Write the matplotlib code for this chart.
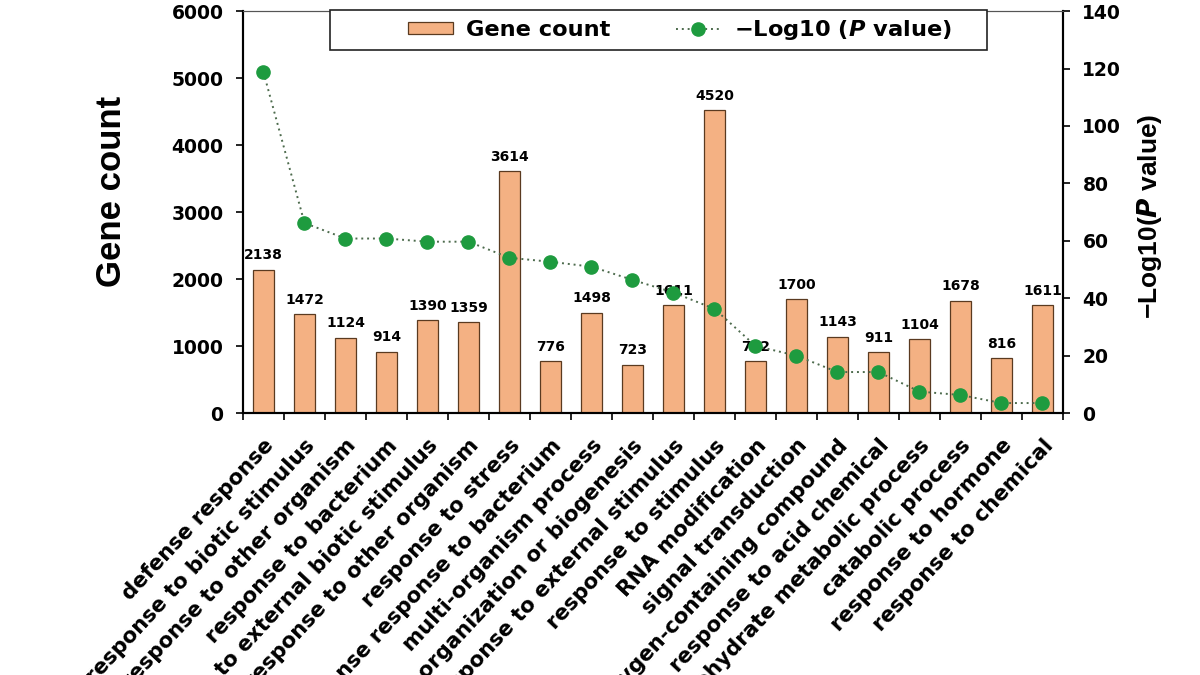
import matplotlib
matplotlib.use('Agg')
import matplotlib.pyplot as plt
from matplotlib.lines import Line2D
from matplotlib.patches import Patch, Rectangle
import numpy as np

plt.rcParams['font.family'] = ['DejaVu Sans']
plt.rcParams['font.weight'] = 'bold'
plt.rcParams['mathtext.fontset'] = 'dejavusans'

terms = ['defense response', 'response to biotic stimulus',
         'defense response to other organism', 'response to bacterium',
         'response to external biotic stimulus', 'response to other organism',
         'response to stress', 'defense response to bacterium',
         'multi-organism process', 'cell wall organization or biogenesis',
         'response to external stimulus', 'response to stimulus',
         'RNA modification', 'signal transduction',
         'response to oxygen-containing compound', 'response to acid chemical',
         'carbohydrate metabolic process', 'catabolic process',
         'response to hormone', 'response to chemical']
gene_count = [2138, 1472, 1124, 914, 1390, 1359, 3614, 776, 1498, 723,
              1611, 4520, 772, 1700, 1143, 911, 1104, 1678, 816, 1611]
neg_log_p = [118.7, 66.2, 60.8, 60.8, 59.7, 59.7, 54.1, 52.7, 51.0, 46.4,
             42.0, 36.3, 23.4, 20.0, 14.3, 14.3, 7.5, 6.3, 3.5, 3.5]

bar_color = '#F4B183'
bar_edge = '#5a3a20'
dot_color = '#1E9B3F'
line_color = '#4d6b4d'

fig = plt.figure(figsize=(12, 6.75), dpi=100)
ax = fig.add_axes([0.2025, 0.388, 0.6833, 0.5955])
ax2 = ax.twinx()

x = np.arange(len(terms))
ax.bar(x, gene_count, width=0.52, color=bar_color, edgecolor=bar_edge, linewidth=0.9, zorder=2)
for xi, v in zip(x, gene_count):
    ax.text(xi, v + 110, str(v), ha='center', va='bottom', fontsize=10, fontweight='bold', zorder=3)

ax2.plot(x, neg_log_p, linestyle=(0, (1, 2)), color=line_color, linewidth=1.4,
         marker='o', markersize=9.5, markerfacecolor=dot_color, markeredgecolor=dot_color, zorder=4)

ax.set_xlim(-0.5, len(terms) - 0.5)
ax.set_ylim(0, 6000)
ax2.set_ylim(0, 140)
ax.set_yticks(range(0, 6001, 1000))
ax2.set_yticks(range(0, 141, 20))

ax.set_xticks(x)
ax.set_xticklabels(terms, rotation=47, ha='right', rotation_mode='anchor', fontsize=15.3)
ax.tick_params(axis='x', which='major', length=0, pad=16)
ax.set_xticks(np.arange(-0.5, len(terms), 1), minor=True)
ax.tick_params(axis='x', which='minor', direction='out', length=5, width=1.2)
ax.tick_params(axis='y', direction='out', length=5, width=1.2, labelsize=13.5, pad=9)
ax2.tick_params(axis='y', direction='out', length=5, width=1.2, labelsize=13.5, pad=9)

for a in (ax, ax2):
    for s in ('left', 'right', 'bottom'):
        a.spines[s].set_linewidth(1.5)
    a.spines['top'].set_linewidth(0.8)
    a.spines['top'].set_color('#555555')

ax.set_ylabel('Gene count', fontsize=25, fontweight='bold', family='Liberation Sans')
ax.yaxis.set_label_coords(-0.140, 0.552)
ax2.set_ylabel('\u2212Log10(' + r'$\mathbfit{P}$' + ' value)', fontsize=19,
               fontweight='bold', family='Liberation Sans')
ax2.yaxis.set_label_coords(1.088, 0.49)

# legend frame drawn as its own box, wider than the legend content
ax2.add_patch(Rectangle((0.106, 0.903), 0.801, 0.099, transform=ax2.transAxes,
                        facecolor='white', edgecolor='#222222', linewidth=1.2,
                        clip_on=False, zorder=5))
handles = [Patch(facecolor=bar_color, edgecolor=bar_edge, linewidth=0.9),
           Line2D([0], [0], linestyle=(0, (1, 2)), color=line_color, linewidth=1.4,
                  marker='o', markersize=9.5, markerfacecolor=dot_color, markeredgecolor=dot_color)]
leg = ax2.legend(handles, ['Gene count', '\u2212Log10 (' + r'$\mathbfit{P}$' + ' value)'],
                 loc='center', bbox_to_anchor=(0.533, 0.953), ncol=2, frameon=False,
                 fontsize=16.2, columnspacing=2.9, handlelength=2.0, handleheight=0.45,
                 handletextpad=0.6, borderpad=0, borderaxespad=0)
leg.set_zorder(6)

fig.savefig('out.png', dpi=100)
